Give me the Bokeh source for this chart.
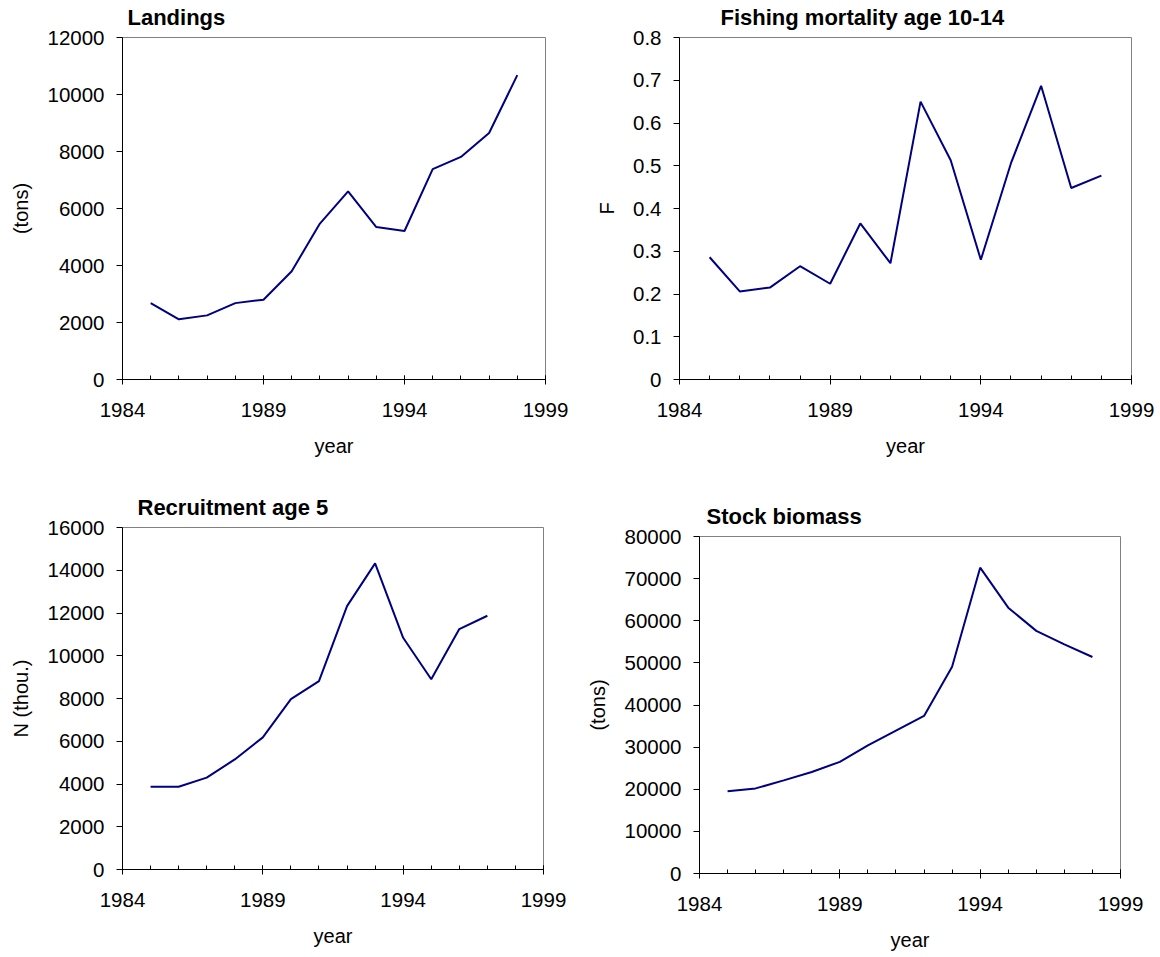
from bokeh.plotting import figure
from bokeh.layouts import column, row
from bokeh.models import Range1d, FixedTicker, NumeralTickFormatter, Spacer
from bokeh.embed import file_html
from bokeh.resources import INLINE

# ---- data ----
years = list(range(1985, 1999))
landings = [2680, 2110, 2250, 2680, 2800, 3800, 5470, 6600, 5350, 5210, 7380, 7810, 8650, 10680]
fishing_mortality = [0.286, 0.206, 0.215, 0.265, 0.224, 0.365, 0.272, 0.650, 0.513, 0.280, 0.506, 0.687, 0.448, 0.477]
recruit_years = list(range(1985, 1998))
recruitment = [3870, 3870, 4300, 5150, 6180, 7970, 8810, 12320, 14320, 10840, 8900, 11250, 11870]
biomass = [19500, 20200, 22100, 24100, 26500, 30400, 33900, 37400, 49100, 72600, 63100, 57600, 54400, 51400]

x_major_ticks = [1984, 1989, 1994, 1999]
x_minor_ticks = list(range(1984, 2000))

landings_ticks = [0, 2000, 4000, 6000, 8000, 10000, 12000]
f_ticks = [0, 0.1, 0.2, 0.3, 0.4, 0.5, 0.6, 0.7, 0.8]
recruit_ticks = [0, 2000, 4000, 6000, 8000, 10000, 12000, 14000, 16000]
biomass_ticks = [0, 10000, 20000, 30000, 40000, 50000, 60000, 70000, 80000]

FONT = "Liberation Sans"
TICK_SIZE = "20.5px"
LABEL_SIZE = "20px"
TITLE_SIZE = "22px"


def panel(title, xs, ys, yticks, ylabel, fmt, fw, fh, left, right, top, bottom,
          title_offset, title_standoff):
    p = figure(frame_width=fw, frame_height=fh,
               min_border_left=left, min_border_right=right,
               min_border_top=top, min_border_bottom=bottom,
               x_range=Range1d(1984, 1999), y_range=Range1d(yticks[0], yticks[-1]),
               output_backend="svg", toolbar_location=None,
               background_fill_color="white", border_fill_color="white")
    p.title.text = title
    p.title.text_font = FONT
    p.title.text_font_size = TITLE_SIZE
    p.title.text_font_style = "bold"
    p.title.align = "left"
    p.title.offset = title_offset
    p.title.standoff = title_standoff
    p.title.text_color = "black"

    p.xgrid.visible = False
    p.ygrid.visible = False
    p.outline_line_color = "#808080"
    p.outline_line_width = 1

    xa = p.xaxis[0]
    xa.ticker = FixedTicker(ticks=x_major_ticks, minor_ticks=x_minor_ticks)
    xa.formatter = NumeralTickFormatter(format="0")
    xa.major_tick_in = 4
    xa.major_tick_out = 5
    xa.minor_tick_in = 4
    xa.minor_tick_out = 0
    xa.axis_label = "year"

    ya = p.yaxis[0]
    ya.ticker = FixedTicker(ticks=yticks, minor_ticks=[])
    ya.formatter = NumeralTickFormatter(format=fmt)
    ya.major_tick_in = 0
    ya.major_tick_out = 6
    ya.minor_tick_in = 0
    ya.minor_tick_out = 0
    ya.axis_label = ylabel

    for ax in (xa, ya):
        ax.axis_line_color = "black"
        ax.axis_line_width = 1
        ax.major_tick_line_color = "black"
        ax.minor_tick_line_color = "black"
        ax.major_label_text_font = FONT
        ax.major_label_text_font_size = TICK_SIZE
        ax.major_label_text_color = "black"
        ax.axis_label_text_font = FONT
        ax.axis_label_text_font_size = LABEL_SIZE
        ax.axis_label_text_font_style = "normal"
        ax.axis_label_text_color = "black"
    xa.major_label_standoff = 18
    xa.axis_label_standoff = 15
    ya.major_label_standoff = 12
    ya.axis_label_standoff = 12

    p.line(xs, ys, line_color="#000080", line_width=2)
    return p


p1 = panel("Landings", years, landings, landings_ticks, "(tons)", "0",
           fw=423, fh=342, left=122, right=35, top=43, bottom=91,
           title_offset=5, title_standoff=16)
p2 = panel("Fishing mortality age 10-14", years, fishing_mortality, f_ticks, "F", "0.[0]",
           fw=452, fh=342, left=99, right=29, top=43, bottom=91,
           title_offset=41, title_standoff=16)
p3 = panel("Recruitment age 5", recruit_years, recruitment, recruit_ticks, "N (thou.)", "0",
           fw=421, fh=342, left=122, right=37, top=57, bottom=88,
           title_offset=15, title_standoff=15)
p4 = panel("Stock biomass", years, biomass, biomass_ticks, "(tons)", "0",
           fw=421, fh=337, left=119, right=40, top=66, bottom=84,
           title_offset=7, title_standoff=15)

# top row figures are 6px taller at the top (room for the title); pull the row up by 6px
top_row = row(p1, p2, spacing=0, styles={"margin-top": "-6px"})
bottom_row = row(column(Spacer(width=580, height=0), p3, spacing=0),
                 column(Spacer(width=580, height=0), p4, spacing=0), spacing=0)
layout = column(top_row, bottom_row, spacing=0)

open("out.html", "w").write(file_html(layout, INLINE))
